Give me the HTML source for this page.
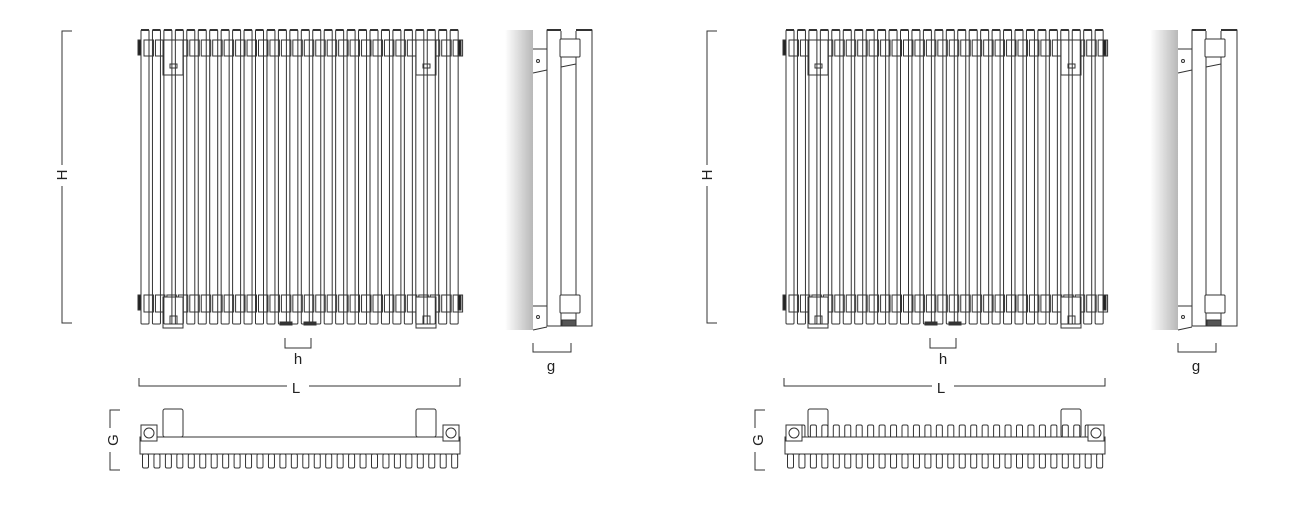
<!DOCTYPE html>
<html><head><meta charset="utf-8"><style>
html,body{margin:0;padding:0;background:#fff;width:1301px;height:507px;overflow:hidden}
svg text{font-family:"Liberation Sans",sans-serif;font-size:15px;fill:#222}
</style></head><body>
<svg id="s" width="1301" height="507" viewBox="0 0 1301 507" xmlns="http://www.w3.org/2000/svg">
<defs><linearGradient id="wg" x1="0" x2="1"><stop offset="0" stop-color="#fff"/><stop offset="1" stop-color="#b8b8b8"/></linearGradient></defs>
<g id="A" fill="none" stroke="#333" stroke-width="1"></g>
<text x="298" y="364" text-anchor="middle">h</text>
<text x="296" y="393" text-anchor="middle">L</text>
<text x="551" y="371" text-anchor="middle">g</text>
<text transform="translate(67,175) rotate(-90)" text-anchor="middle">H</text>
<text transform="translate(118,440) rotate(-90)" text-anchor="middle">G</text>
<text x="943" y="364" text-anchor="middle">h</text>
<text x="941" y="393" text-anchor="middle">L</text>
<text x="1196" y="371" text-anchor="middle">g</text>
<text transform="translate(712,175) rotate(-90)" text-anchor="middle">H</text>
<text transform="translate(763,440) rotate(-90)" text-anchor="middle">G</text>
</svg>
<script>
var g=document.getElementById('A'),h='';
function R(x,y,w,hh,ex){h+='<rect x="'+x+'" y="'+y+'" width="'+w+'" height="'+hh+'" '+(ex||'')+'/>';}
function L(a,b,c,d,ex){h+='<line x1="'+a+'" y1="'+b+'" x2="'+c+'" y2="'+d+'" '+(ex||'')+'/>';}
function draw(o,full){
 var P=11.45,N=28;
 for(var i=0;i<N;i++){var x=o+141+i*P;R(x+3,40,P-2,16);R(x+3,295,P-2,17);}
 [163,416].forEach(function(b){R(o+b,40,20,35,'fill="#fff"');R(o+b+7,64,7,4);R(o+b,297,20,31,'fill="#fff"');R(o+b+7,316,7,8);});
 for(var i=0;i<N;i++){var x=o+141+i*P;R(x,30,8,294,'rx="1" fill="none"');}
 for(var i=0;i<N;i++){var x=o+141+i*P;L(x,30,x+8,30,'stroke-width="2"');}
 R(o+138,40,3,15,'fill="#222"');R(o+458,40,3,15,'fill="#222"');
 R(o+138,295,3,15,'fill="#222"');R(o+458,295,3,15,'fill="#222"');
 R(o+280,322,12,3,'fill="#333"');R(o+304,322,12,3,'fill="#333"');
 h+='<polyline points="'+(o+72)+',31 '+(o+62)+',31 '+(o+62)+',165"/><polyline points="'+(o+72)+',323 '+(o+62)+',323 '+(o+62)+',186"/>';
 h+='<polyline points="'+(o+285)+',338 '+(o+285)+',348 '+(o+311)+',348 '+(o+311)+',338"/>';
 h+='<polyline points="'+(o+139)+',378 '+(o+139)+',386 '+(o+287)+',386"/><polyline points="'+(o+460)+',378 '+(o+460)+',386 '+(o+309)+',386"/>';
 R(o+505,30,28,300,'fill="url(#wg)" stroke="none"');
 R(o+547,30,45,296,'fill="#fff"');L(o+561,30,o+561,326);L(o+576,30,o+576,326);L(o+561,30,o+576,30,'stroke="#fff" stroke-width="2"');
 L(o+547,30,o+561,30,'stroke-width="2"');L(o+576,30,o+592,30,'stroke-width="2"');
 R(o+560,39,20,18,'rx="1" fill="#fff"');R(o+560,295,20,18,'rx="1" fill="#fff"');
 h+='<polyline points="'+(o+533)+',49 '+(o+547)+',49"/><polyline points="'+(o+533)+',73 '+(o+547)+',70"/><polyline points="'+(o+561)+',67 '+(o+576)+',64"/>';
 h+='<polyline points="'+(o+533)+',306 '+(o+547)+',306"/><polyline points="'+(o+533)+',330 '+(o+547)+',327"/>';
 h+='<circle cx="'+(o+538)+'" cy="61" r="1.5"/><circle cx="'+(o+538)+'" cy="317" r="1.5"/>';
 R(o+562,320,14,6,'fill="#555"');
 h+='<polyline points="'+(o+533)+',343 '+(o+533)+',352 '+(o+571)+',352 '+(o+571)+',343"/>';
 h+='<polyline points="'+(o+120)+',410 '+(o+110)+',410 '+(o+110)+',428"/><polyline points="'+(o+120)+',470 '+(o+110)+',470 '+(o+110)+',452"/>';
 for(var i=0;i<N;i++){var x=o+141+i*P+1.5;R(x,454,6,14,'rx="1.5"');if(full)R(x,425,6,13,'rx="1.5"');}
 R(o+140,437,320,17,'fill="#fff"');
 [163,416].forEach(function(b){R(o+b,409,20,28,'rx="2" fill="'+(full?'none':'#fff')+'"');});
 R(o+141,425,16,16,'fill="#fff"');h+='<circle cx="'+(o+149)+'" cy="433" r="5"/>';
 R(o+443,425,16,16,'fill="#fff"');h+='<circle cx="'+(o+451)+'" cy="433" r="5"/>';
}
draw(0,false);draw(645,true);
g.innerHTML=h;
</script>
</body></html>
